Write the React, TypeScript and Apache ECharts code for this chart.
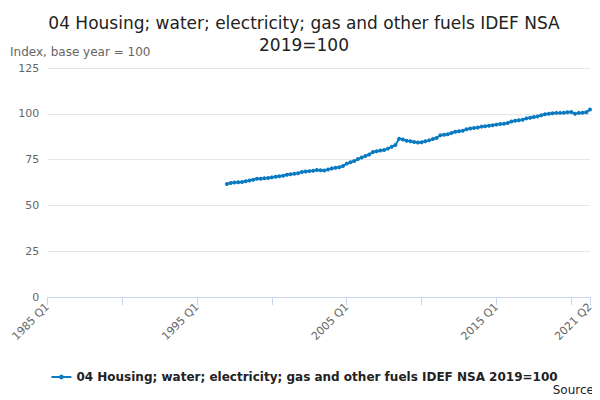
import { useEffect, useRef } from 'react';
import * as echarts from 'echarts';

const quarters: string[] = [];
for (let y = 1985; y <= 2021; y += 1) {
  for (let q = 1; q <= 4; q += 1) {
    if (y === 2021 && q > 2) break;
    quarters.push(`${y} Q${q}`);
  }
}

// 1997 Q1 .. 2021 Q2
const seriesValues = [
  61.7, 62.2, 62.5, 62.6,
  62.8, 63.2, 63.6, 64.0,
  64.5, 64.6, 64.8, 65.0,
  65.3, 65.6, 65.9, 66.2,
  66.7, 67.0, 67.3, 67.6,
  68.2, 68.5, 68.7, 68.9,
  69.3, 69.2, 69.0, 69.6,
  70.2, 70.5, 70.8, 71.5,
  72.8, 73.5, 74.2, 75.3,
  76.2, 77.0, 77.8, 79.2,
  79.6, 80.0, 80.2, 81.0,
  82.0, 83.0, 86.4, 86.0,
  85.3, 85.0, 84.6, 84.3,
  84.5, 85.0, 85.5, 86.2,
  86.8, 88.3, 88.6, 88.8,
  89.5, 90.2, 90.5, 90.8,
  91.6, 92.0, 92.2, 92.5,
  93.0, 93.2, 93.5, 93.8,
  94.1, 94.4, 94.6, 95.0,
  95.8, 96.2, 96.5, 96.8,
  97.5, 97.9, 98.2, 98.6,
  99.2, 99.8, 100.0, 100.3,
  100.5, 100.5, 100.6, 100.8,
  101.0, 100.0, 100.5, 100.6,
  100.9, 102.3
];
const startIndex = quarters.indexOf('1997 Q1');
const data = quarters.map((_, i) => (i < startIndex ? null : seriesValues[i - startIndex]));
const seriesName = '04 Housing; water; electricity; gas and other fuels IDEF NSA 2019=100';

export default function App() {
  const ref = useRef<HTMLDivElement>(null);

  useEffect(() => {
    if (!ref.current) return undefined;
    const chart = echarts.init(ref.current, null, { renderer: 'svg' });
    const last = quarters.length - 1;
    chart.setOption({
      animation: false,
      textStyle: { fontFamily: 'DejaVu Sans' },
      title: {
        text: '04 Housing; water; electricity; gas and other fuels IDEF NSA\n2019=100',
        left: 'center',
        top: -1,
        textStyle: { fontSize: 17, fontWeight: 'normal', color: '#222', lineHeight: 22 }
      },
      graphic: [
        { type: 'text', left: 2, top: 38, style: { text: 'Index, base year = 100', fontSize: 12, fill: '#666', fontFamily: 'DejaVu Sans' } },
        { type: 'text', right: 2, top: 376, style: { text: 'Source:', fontSize: 12, fill: '#222', fontFamily: 'DejaVu Sans' } }
      ],
      legend: {
        bottom: 12,
        left: 'center',
        data: [seriesName],
        textStyle: { fontSize: 12, fontWeight: 'bold', color: '#222' },
        itemWidth: 20,
        itemHeight: 6
      },
      grid: { left: 39, right: 10, top: 60, bottom: 103 },
      xAxis: {
        type: 'category',
        data: quarters,
        boundaryGap: false,
        axisLine: { lineStyle: { color: '#ccd6eb' } },
        axisTick: { interval: (i: number) => i % 20 === 0 || i === last, lineStyle: { color: '#ccd6eb' }, length: 8 },
        axisLabel: { interval: (i: number) => i % 40 === 0 || i === last, rotate: 45, color: '#666', fontSize: 11 }
      },
      yAxis: {
        type: 'value',
        min: 0,
        max: 125,
        interval: 25,
        axisLabel: { color: '#666', fontSize: 11 },
        splitLine: { lineStyle: { color: '#e6e6e6' } }
      },
      series: [
        {
          name: seriesName,
          type: 'line',
          data,
          symbol: 'circle',
          symbolSize: 4,
          showAllSymbol: true,
          itemStyle: { color: '#0a7bc2' },
          lineStyle: { width: 2, color: '#0a7bc2' }
        }
      ]
    });
    return () => chart.dispose();
  }, []);

  return <div ref={ref} style={{ width: 592, height: 392 }} />;
}
